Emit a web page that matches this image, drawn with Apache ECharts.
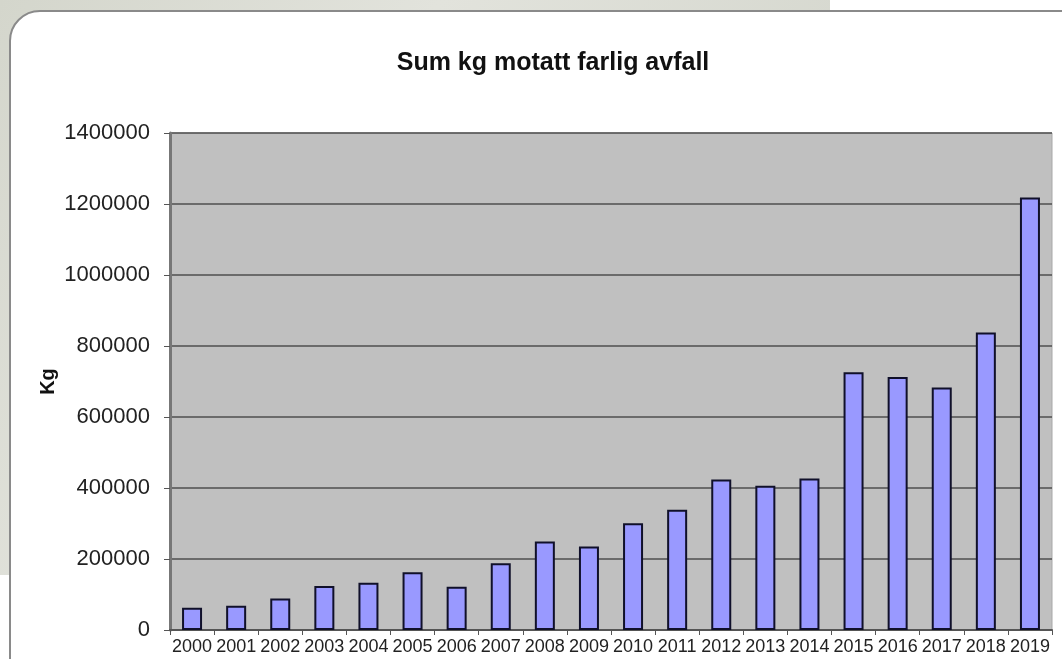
<!DOCTYPE html>
<html>
<head>
<meta charset="utf-8">
<script src="https://cdn.jsdelivr.net/npm/echarts@6/dist/echarts.min.js"></script>
<style>
html,body{margin:0;padding:0;background:#fff;}
#chart{width:1062px;height:659px;}
</style>
</head>
<body>
<div id="chart"></div>
<script>
const title = 'Sum kg motatt farlig avfall';
const yAxisName = 'Kg';
const years = ['2000','2001','2002','2003','2004','2005','2006','2007','2008','2009','2010','2011','2012','2013','2014','2015','2016','2017','2018','2019'];
const kgValues = [63000, 68000, 89000, 124000, 133000, 163000, 122000, 188000, 249000, 235000, 301000, 339000, 424000, 406000, 427000, 726000, 713000, 683000, 838000, 1218000];
const yTicks = { min: 0, max: 1400000, interval: 200000 };

const chart = echarts.init(document.getElementById('chart'), null, { renderer: 'canvas' });
chart.setOption({
  animation: false,
  backgroundColor: '#ffffff',
  graphic: [
    { type: 'rect', z: -10, silent: true, shape: { x: 0, y: 0, width: 1062, height: 659 },
      style: { fill: new echarts.graphic.LinearGradient(0, 0, 1, 1, [
        { offset: 0, color: '#d4d6cc' }, { offset: 0.3, color: '#e2e3dc' },
        { offset: 0.6, color: '#d6d8cf' }, { offset: 1, color: '#dcddd5' }]) } },
    { type: 'rect', z: -9, silent: true, shape: { x: 830, y: 0, width: 232, height: 14 }, style: { fill: '#ffffff' } },
    { type: 'rect', z: -9, silent: true, shape: { x: 0, y: 575, width: 12, height: 84 }, style: { fill: '#ffffff' } },
    { type: 'rect', z: -8, silent: true, shape: { x: 10, y: 11, width: 1070, height: 700, r: [30, 0, 0, 0] },
      style: { fill: '#ffffff', stroke: '#8a8a8a', lineWidth: 2 } }
  ],
  title: {
    text: title,
    left: 548, top: 46, textAlign: 'center',
    textStyle: { fontFamily: 'Liberation Sans, Arial, sans-serif', fontSize: 25, fontWeight: 'bold', color: '#111' }
  },
  grid: { left: 170, right: 10, top: 133, bottom: 29, show: true, backgroundColor: '#c0c0c0', borderColor: '#a8a8a8', borderWidth: 1 },
  xAxis: {
    type: 'category', data: years,
    axisLine: { lineStyle: { color: '#555', width: 2 } },
    axisTick: { show: true, length: 5, lineStyle: { color: '#555' } },
    axisLabel: { margin: 8, fontFamily: 'Liberation Sans, Arial, sans-serif', fontSize: 18, color: '#222', interval: 0 }
  },
  yAxis: {
    type: 'value', min: yTicks.min, max: yTicks.max, interval: yTicks.interval,
    name: yAxisName, nameLocation: 'middle', nameGap: 112, nameRotate: 90, nameMoveOverlap: false,
    nameTextStyle: { fontFamily: 'Liberation Sans, Arial, sans-serif', fontSize: 20, fontWeight: 'bold', color: '#111' },
    axisLine: { show: true, lineStyle: { color: '#777', width: 3 } },
    axisTick: { show: true, length: 6, inside: false, lineStyle: { color: '#555' } },
    axisLabel: { margin: 20, fontFamily: 'Liberation Sans, Arial, sans-serif', fontSize: 22, color: '#222',
      formatter: function (v) { return String(v); } },
    splitLine: { lineStyle: { color: '#4f4f4f', width: 1.5 } }
  },
  series: [{
    type: 'bar', data: kgValues, barWidth: 20,
    itemStyle: { color: '#9999ff', borderColor: '#10102a', borderWidth: 2 }
  }]
});
</script>
</body>
</html>
